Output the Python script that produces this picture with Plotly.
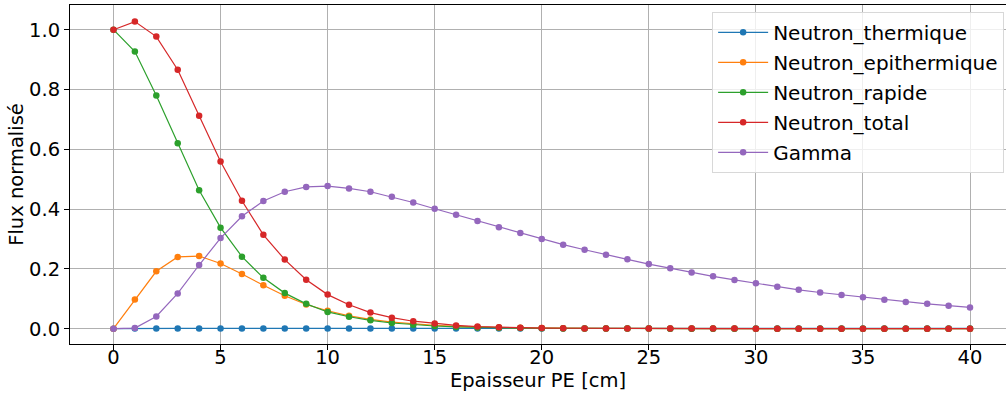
import plotly.graph_objects as go

x = list(range(0, 41))

thermique = [0.0] + [0.001] * 40

epithermique = [0.0, 0.098, 0.192, 0.240, 0.243, 0.218, 0.183, 0.145, 0.110, 0.081,
                0.060, 0.043, 0.031, 0.022, 0.016, 0.011, 0.008, 0.005, 0.004, 0.003,
                0.002, 0.0015, 0.001, 0.001, 0.0008, 0.0006, 0.0005, 0.0004, 0.0003, 0.0003,
                0.0002, 0.0002, 0.0002, 0.0001, 0.0001, 0.0001, 0.0001, 0.0001, 0.0, 0.0, 0.0]

rapide = [1.0, 0.927, 0.780, 0.620, 0.463, 0.338, 0.241, 0.170, 0.119, 0.083,
          0.056, 0.040, 0.028, 0.019, 0.013, 0.009, 0.006, 0.004, 0.003, 0.002,
          0.0015, 0.001, 0.0008, 0.0006, 0.0004, 0.0003, 0.0002, 0.0002, 0.0001, 0.0001,
          0.0001, 0.0001, 0.0, 0.0, 0.0, 0.0, 0.0, 0.0, 0.0, 0.0, 0.0]

total = [1.0, 1.027, 0.977, 0.866, 0.712, 0.559, 0.428, 0.314, 0.231, 0.164,
         0.114, 0.080, 0.054, 0.037, 0.025, 0.017, 0.011, 0.007, 0.005, 0.003,
         0.002, 0.0015, 0.001, 0.001, 0.0008, 0.0006, 0.0005, 0.0004, 0.0003, 0.0003,
         0.0002, 0.0002, 0.0002, 0.0001, 0.0001, 0.0001, 0.0001, 0.0001, 0.0, 0.0, 0.0]

gamma = [0.0, 0.002, 0.041, 0.118, 0.213, 0.303, 0.376, 0.427, 0.458, 0.474,
         0.477, 0.469, 0.458, 0.441, 0.422, 0.401, 0.381, 0.360, 0.339, 0.320,
         0.300, 0.281, 0.264, 0.247, 0.232, 0.216, 0.202, 0.188, 0.175, 0.163,
         0.152, 0.140, 0.130, 0.121, 0.113, 0.105, 0.097, 0.089, 0.083, 0.077, 0.071]

series = [
    ("Neutron_thermique", thermique, "#1f77b4"),
    ("Neutron_epithermique", epithermique, "#ff7f0e"),
    ("Neutron_rapide", rapide, "#2ca02c"),
    ("Neutron_total", total, "#d62728"),
    ("Gamma", gamma, "#9467bd"),
]

x_ticks = [0, 5, 10, 15, 20, 25, 30, 35, 40]
y_ticks = [0.0, 0.2, 0.4, 0.6, 0.8, 1.0]
y_tick_labels = ["0.0", "0.2", "0.4", "0.6", "0.8", "1.0"]

FONT = "DejaVu Sans"
FS = 19.5

fig = go.Figure()
for i, (name, vals, col) in enumerate(series):
    fig.add_trace(go.Scatter(
        x=x, y=vals, name=name, mode="lines+markers",
        line=dict(color=col, width=1.2),
        marker=dict(color=col, size=6.5),
        legendgroup=f"g{i}",
    ))

fig.update_layout(
    width=1006, height=394,
    margin=dict(l=70, r=0, t=5, b=50),
    paper_bgcolor="white", plot_bgcolor="white",
    font=dict(family=FONT, size=FS, color="black"),
    showlegend=True,
    legend=dict(
        x=0.998, y=0.98, xanchor="right", yanchor="top",
        bgcolor="rgba(255,255,255,0.8)", bordercolor="#d8d8d8", borderwidth=1,
        font=dict(family=FONT, size=20, color="black"),
        tracegroupgap=1, itemwidth=50,
    ),
    xaxis=dict(
        range=[-2.03, 41.68],
        tickmode="array", tickvals=x_ticks,
        showgrid=True, gridcolor="#b0b0b0", gridwidth=1,
        zeroline=False,
        showline=True, linecolor="black", linewidth=1, mirror=True,
        ticks="outside", ticklen=5, tickcolor="black", tickwidth=1,
        tickfont=dict(family=FONT, size=FS, color="black"),
        ticklabelstandoff=-9,
        automargin=False,
        title=dict(text="Epaisseur PE [cm]", font=dict(family=FONT, size=FS, color="black"), standoff=0),
    ),
    yaxis=dict(
        range=[-0.0512, 1.0826],
        tickmode="array", tickvals=y_ticks, ticktext=y_tick_labels,
        showgrid=True, gridcolor="#b0b0b0", gridwidth=1,
        zeroline=False,
        showline=True, linecolor="black", linewidth=1, mirror=False,
        ticks="outside", ticklen=5, tickcolor="black", tickwidth=1,
        tickfont=dict(family=FONT, size=FS, color="black"),
        automargin=False,
        title=dict(text="Flux normalisé", font=dict(family=FONT, size=FS, color="black"), standoff=0),
    ),
)

fig.write_html("out.html", config={"displayModeBar": False},
               post_script="document.body.style.margin='0';")
